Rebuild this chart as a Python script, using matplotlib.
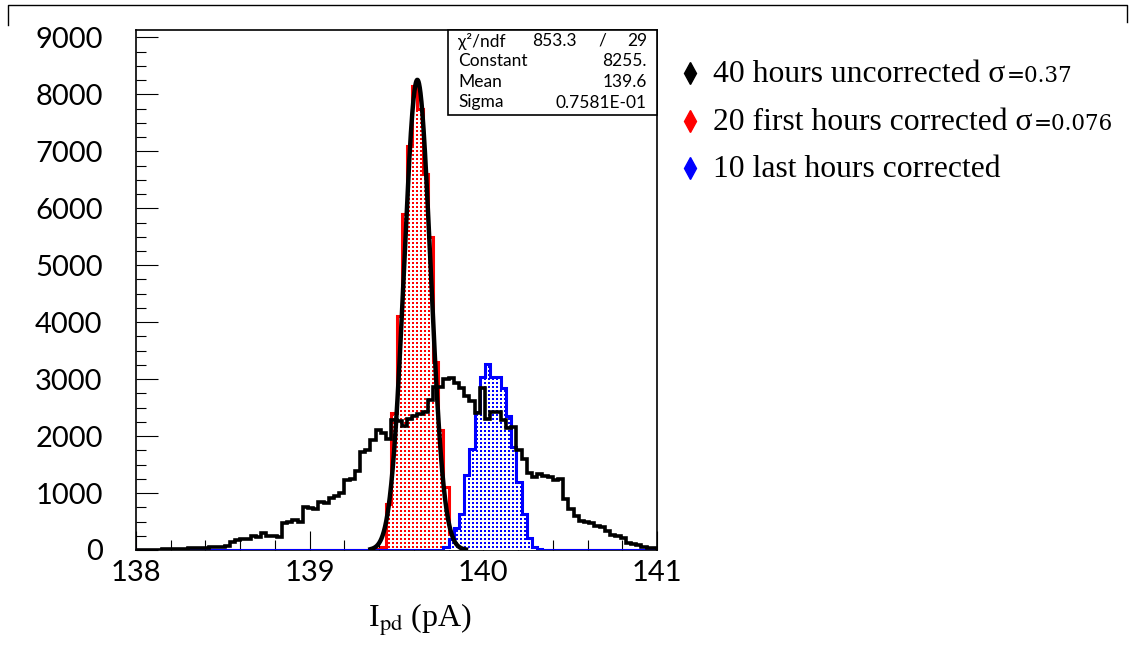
import matplotlib.pyplot as plt
import numpy as np
from matplotlib.colors import to_rgb
from matplotlib.patches import Rectangle

# 100 bins of 0.03 pA between 138 and 141 pA
x_lo, x_hi, n_bins = 138.0, 141.0, 100
y_max = 9130

# 40 hours uncorrected (black)
black_counts = [
    5, 5, 5, 8, 8, 10, 10, 12, 20, 25,
    30, 30, 35, 40, 45, 55, 60, 70, 140, 180,
    190, 200, 240, 230, 290, 250, 240, 220, 470, 500,
    530, 500, 760, 740, 720, 850, 830, 920, 950, 1000,
    1230, 1240, 1380, 1720, 1750, 1930, 2100, 2050, 1950, 2280,
    2260, 2180, 2300, 2350, 2380, 2420, 2640, 2870, 2860, 3010,
    3020, 2940, 2850, 2700, 2620, 2400, 2850, 2300, 2420, 2430,
    2280, 2150, 2160, 1760, 1600, 1350, 1280, 1340, 1300, 1280,
    1230, 1250, 900, 720, 600, 510, 490, 470, 420, 400,
    330, 270, 250, 210, 130, 110, 90, 50, 40, 30,
]

# 20 first hours corrected (red), non-empty bins 46..63
red_counts = [0] * 46 + [
    10, 60, 800, 2400, 4100, 5900, 7100, 8150, 7750, 6600,
    5500, 3300, 2100, 1100, 300, 80, 30, 10,
] + [0] * 36

# 10 last hours corrected (blue), non-empty bins 59..77
blue_counts = [0] * 59 + [
    60, 200, 390, 630, 1320, 1770, 2420, 3040, 3270, 3030,
    3030, 2850, 2350, 1810, 1190, 630, 210, 50, 10,
] + [0] * 22

# gaussian fit of the red histogram (stat box values)
fit_const = 8255.0
fit_mean = 139.62
fit_sigma = 0.07581
fit_range = (139.35, 139.90)

stat_names = ["χ²/ndf", "Constant", "Mean", "Sigma"]
stat_values = ["", "8255.", "139.6", "0.7581E-01"]
chi2_text, ndf_text = "853.3", "29"

legend_rows = [
    ("black", "40 hours uncorrected σ", "=0.37"),
    ("red", "20 first hours corrected σ", "=0.076"),
    ("blue", "10 last hours corrected", ""),
]

W, H = 1129, 655
plt.rcParams["mathtext.fontset"] = "stix"
fig = plt.figure(figsize=(W / 100, H / 100), dpi=100)
ax = fig.add_axes([136 / W, 1 - 550 / H, 521 / W, 520 / H])

edges = np.linspace(x_lo, x_hi, n_bins + 1)
tick_font = ["Lato", "DejaVu Sans"]


def dotted_hist(counts, color, z):
    # ROOT-like dotted fill: coloured dots on white, clipped to the histogram
    area = ax.stairs(counts, edges, fill=True, facecolor="white",
                     linewidth=0, zorder=z)
    ny, nx = 520, 521
    tex = np.ones((ny, nx, 3))
    yy, xx = np.mgrid[0:ny, 0:nx]
    tex[(yy % 4 < 2) & (xx % 4 < 2)] = to_rgb(color)
    im = ax.imshow(tex, extent=(x_lo, x_hi, 0, y_max), aspect="auto",
                   interpolation="nearest", zorder=z + 0.1)
    im.set_clip_path(area)
    ax.stairs(counts, edges, color=color, linewidth=2.2, zorder=z + 0.2)


dotted_hist(red_counts, "red", 2)
dotted_hist(blue_counts, "blue", 3)
ax.stairs(black_counts, edges, color="black", linewidth=2.6, zorder=5)

xf = np.linspace(*fit_range, 400)
yf = fit_const * np.exp(-0.5 * ((xf - fit_mean) / fit_sigma) ** 2)
ax.plot(xf, yf, color="black", linewidth=3.2, zorder=6)

ax.set_xlim(x_lo, x_hi)
ax.set_ylim(0, y_max)
ax.set_xticks([138, 139, 140, 141])
ax.set_xticks(np.arange(138, 141.01, 0.2), minor=True)
ax.set_yticks(np.arange(0, 9001, 1000))
ax.set_yticks(np.arange(0, 9001, 250), minor=True)
ax.tick_params(which="both", direction="in", top=False, right=False,
               width=0.8, colors="black")
ax.tick_params(axis="y", which="major", length=16, pad=24)
ax.tick_params(axis="x", which="major", length=14, pad=7)
ax.tick_params(which="minor", length=7)
for lab in ax.get_xticklabels() + ax.get_yticklabels():
    lab.set_fontfamily(tick_font)
    lab.set_fontsize(21)
for sp in ax.spines.values():
    sp.set_linewidth(1.2)

# overlay in pixel coordinates for the decorations around the frame
ov = fig.add_axes([0, 0, 1, 1])
ov.set_xlim(0, W)
ov.set_ylim(H, 0)
ov.axis("off")

ov.plot([8, 8, 1127, 1127], [25, 5, 5, 22], color="black", linewidth=1.0)

# stat box
ov.add_patch(Rectangle((448, 30), 209, 85, facecolor="white",
                       edgecolor="black", linewidth=1.2))
stat_kw = dict(va="center", fontsize=12.5, family=tick_font)
for k, (name, val) in enumerate(zip(stat_names, stat_values)):
    yrow = 41 + 20.5 * k
    ov.text(458, yrow, name, ha="left", **stat_kw)
    if val:
        ov.text(647, yrow, val, ha="right", **stat_kw)
ov.text(577, 41, chi2_text, ha="right", **stat_kw)
ov.text(602, 41, "/", ha="center", **stat_kw)
ov.text(647, 41, ndf_text, ha="right", **stat_kw)

# legend
fig.canvas.draw()
renderer = fig.canvas.get_renderer()
for k, (col, label, small) in enumerate(legend_rows):
    yrow = 73 + 47.5 * k
    ov.plot([690], [yrow], marker="d", markersize=11, color=col,
            linestyle="none")
    t = ov.text(713, yrow + 9, label, ha="left", va="baseline",
                fontsize=22.8, family="Liberation Serif")
    if small:
        bb = t.get_window_extent(renderer)
        x_end = ov.transData.inverted().transform((bb.x1, 0))[0]
        ov.text(x_end + 1, yrow + 9, small, ha="left", va="baseline",
                fontsize=15.5, family="DejaVu Serif")

ov.text(420, 620, r"I$_{\mathrm{pd}}$ (pA)", ha="center", va="center",
        fontsize=23, family="Liberation Serif")

fig.savefig("out.png", dpi=100)
